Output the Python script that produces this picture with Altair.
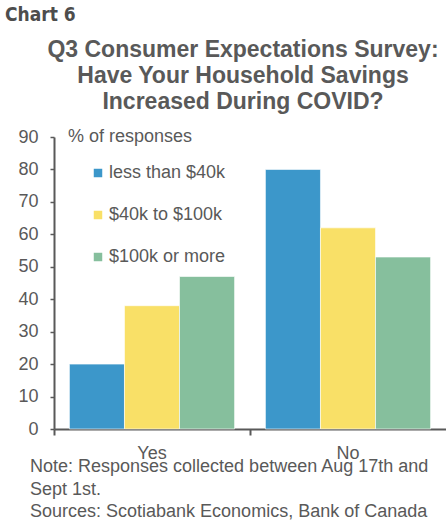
import altair as alt
import pandas as pd

answers = ["Yes", "No"]
groups = ["less than $40k", "$40k to $100k", "$100k or more"]
yes_values = [20, 38, 47]
no_values = [80, 62, 53]
colors = ["#3C97CA", "#F9E067", "#86BF9D"]

rows = []
for g, yv, nv in zip(groups, yes_values, no_values):
    rows.append({"answer": "Yes", "group": g, "value": yv})
    rows.append({"answer": "No", "group": g, "value": nv})
df = pd.DataFrame(rows)

GRAY = "#595959"
FONT = "Liberation Sans"

bars = alt.Chart(df).mark_bar(stroke="white", strokeWidth=0.6).encode(
    x=alt.X("answer:N", sort=answers, title=None,
            scale=alt.Scale(paddingInner=0, paddingOuter=0),
            axis=alt.Axis(bandPosition=0, labelAngle=0,
                          labelFontSize=18, labelColor=GRAY, labelFont=FONT,
                          domainColor=GRAY, domainWidth=2, tickColor=GRAY,
                          tickWidth=2, tickSize=6, labelPadding=9)),
    xOffset=alt.XOffset("group:N", sort=groups,
                        scale=alt.Scale(paddingOuter=0.28, paddingInner=0)),
    y=alt.Y("value:Q", title=None,
            scale=alt.Scale(domain=[0, 90], nice=False),
            axis=alt.Axis(values=list(range(0, 91, 10)), grid=False,
                          labelFontSize=18, labelColor=GRAY, labelFont=FONT,
                          domainColor=GRAY, domainWidth=2, tickColor=GRAY,
                          tickWidth=1.5, tickSize=4, labelPadding=12)),
    color=alt.Color("group:N", sort=groups,
                    scale=alt.Scale(domain=groups, range=colors),
                    legend=alt.Legend(title=None, orient="none", legendX=35, legendY=27,
                                      symbolType="square", symbolSize=72,
                                      symbolStrokeWidth=0, labelFontSize=18,
                                      labelColor=GRAY, labelFont=FONT,
                                      rowPadding=24, labelOffset=2)),
)

def text_layer(lines, x, y, size, bold=False, align="left", font=FONT, color=GRAY):
    d = pd.DataFrame({"t": [lines]})
    return alt.Chart(d).mark_text(
        align=align, baseline="middle", fontSize=size, font=font, color=color,
        fontWeight="bold" if bold else "normal").encode(
        text="t:N", x=alt.value(x), y=alt.value(y))

chart_label = text_layer("Chart 6", -49, -122, 19, bold=True,
                         font="Liberation Sans Narrow, DejaVu Sans Condensed", color="#4D4D4D")
title = alt.Chart(pd.DataFrame({"t": [["Q3 Consumer Expectations Survey:",
                                      "Have Your Household Savings",
                                      "Increased During COVID?"]]})).mark_text(
    align="center", baseline="middle", fontSize=23, font=FONT, fontWeight="bold",
    color=GRAY, lineHeight=26).encode(text="t:N", x=alt.value(189), y=alt.value(-87))
ytitle = text_layer("% of responses", 14, 0, 18)
footer = alt.Chart(pd.DataFrame({"t": [["Note: Responses collected between Aug 17th and",
                                       "Sept 1st.",
                                       "Sources: Scotiabank Economics, Bank of Canada"]]})).mark_text(
    align="left", baseline="middle", fontSize=18, font=FONT, color=GRAY,
    lineHeight=22.5).encode(text="t:N", x=alt.value(-24), y=alt.value(330))

chart = alt.layer(bars, chart_label, title, ytitle, footer).properties(
    width=392, height=292,
    autosize=alt.AutoSizeParams(type="none"),
    padding={"left": 54, "top": 137, "right": 0, "bottom": 91},
).configure_view(stroke=None)

chart.save("out.html", embed_options={"renderer": "svg", "actions": False})
